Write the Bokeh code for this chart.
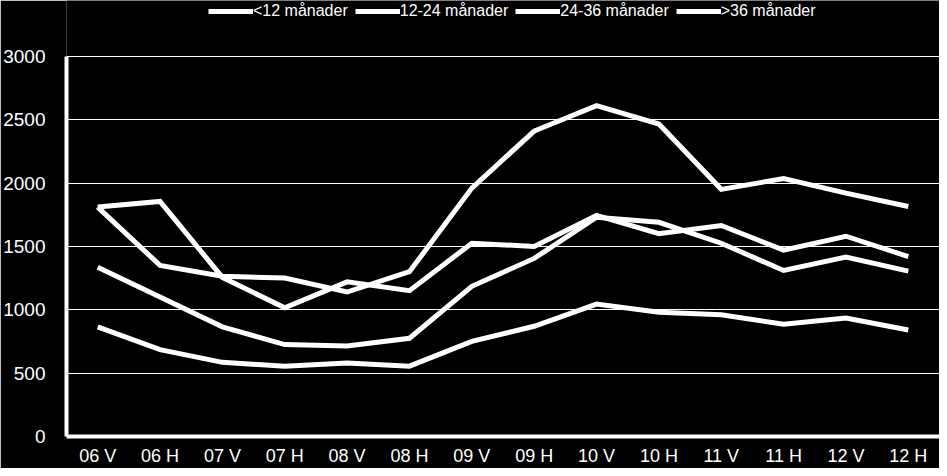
from bokeh.plotting import figure
from bokeh.models import ColumnDataSource, FactorRange, Range1d, Legend, LegendItem, SingleIntervalTicker
from bokeh.embed import file_html
from bokeh.resources import INLINE

categories = ["06 V", "06 H", "07 V", "07 H", "08 V", "08 H", "09 V",
              "09 H", "10 V", "10 H", "11 V", "11 H", "12 V", "12 H"]
labels = ["<12 månader", "12-24 månader", "24-36 månader", ">36 månader"]
under_12 = [1810, 1350, 1265, 1250, 1140, 1300, 1960, 2410, 2610, 2465, 1950, 2035, 1920, 1815]
m12_24 = [1810, 1855, 1255, 1015, 1220, 1150, 1525, 1500, 1745, 1600, 1665, 1470, 1580, 1420]
m24_36 = [1335, 1100, 865, 725, 715, 775, 1185, 1405, 1730, 1690, 1525, 1310, 1415, 1305]
over_36 = [865, 685, 585, 555, 580, 555, 750, 870, 1045, 980, 960, 885, 935, 840]
series = [under_12, m12_24, m24_36, over_36]
y_max = 3000
y_top = 3440   # extra headroom above the axis for the legend

FONT = "Liberation Sans"

p = figure(width=939, height=468, x_range=FactorRange(*categories, range_padding=0),
           y_range=Range1d(0, y_top), output_backend="svg", toolbar_location=None,
           background_fill_color="black", border_fill_color="black",
           min_border_left=60, min_border_right=0, min_border_top=0, min_border_bottom=31)
p.outline_line_color = None

items = []
for lab, vals in zip(labels, series):
    src = ColumnDataSource(dict(x=categories, y=vals))
    r = p.line("x", "y", source=src, line_color="white", line_width=5, line_join="miter")
    items.append(LegendItem(label=lab, renderers=[r]))

legend = Legend(items=items, orientation="horizontal", location=(142, 416),
                background_fill_alpha=0, border_line_color=None,
                label_text_color="white", label_text_font=FONT, label_text_font_size="16px",
                glyph_width=45, glyph_height=16, label_standoff=0, spacing=7,
                padding=0, margin=0, label_height=16)
p.add_layout(legend, "center")

p.xgrid.grid_line_color = None
p.ygrid.grid_line_color = "white"
p.ygrid.grid_line_width = 1
p.ygrid.bounds = (0, y_max)
p.yaxis.ticker = SingleIntervalTicker(interval=500)
p.yaxis.bounds = (0, y_max)

for ax in (p.xaxis, p.yaxis):
    ax.axis_line_color = "white"
    ax.axis_line_width = 4
    ax.major_tick_line_color = None
    ax.minor_tick_line_color = None
    ax.major_label_text_color = "white"
    ax.major_label_text_font = FONT
p.yaxis.major_label_text_font_size = "19px"
p.xaxis.major_label_text_font_size = "18px"
p.yaxis.major_label_standoff = 15
p.xaxis.major_label_standoff = 3

open("out.html", "w").write(file_html(p, INLINE))
